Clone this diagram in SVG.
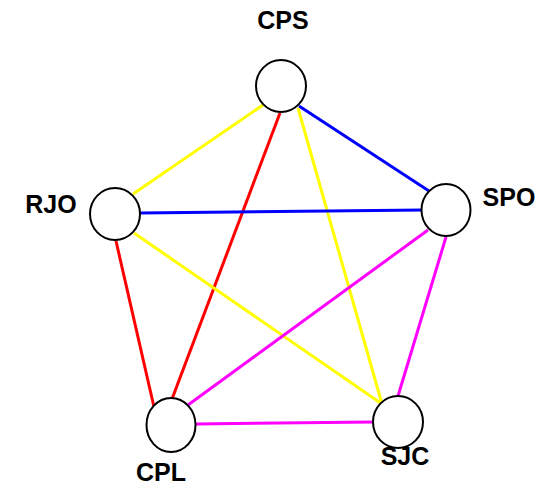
<svg xmlns="http://www.w3.org/2000/svg" width="543" height="486" viewBox="0 0 543 486">
<style>
.n{fill:#fff;stroke:#000;stroke-width:2}
.l{font-family:"Liberation Sans",Arial,sans-serif;font-weight:bold;font-size:25px;fill:#000;text-anchor:middle}
.e{stroke-width:3;fill:none}
.y{stroke:#ffff00}.r{stroke:#ff0000}.b{stroke:#0000ff}.m{stroke:#ff00ff}
</style>
<rect width="543" height="486" fill="#fff"/>
<g id="connectors">
<line class="e y" x1="263" y1="105" x2="133" y2="194"/>
<line class="e r" x1="280" y1="113" x2="172" y2="399"/>
<line class="e y" x1="298" y1="108" x2="382" y2="404"/>
<line class="e b" x1="299" y1="106" x2="429" y2="191"/>
<line class="e b" x1="140" y1="213" x2="423" y2="210"/>
<line class="e r" x1="116" y1="241" x2="154" y2="407"/>
<line class="e y" x1="134" y1="233" x2="382" y2="404"/>
<line class="e m" x1="428" y1="230" x2="188" y2="405"/>
<line class="e m" x1="446" y1="237" x2="398" y2="396"/>
<line class="e m" x1="196" y1="424" x2="374" y2="422"/>
</g>
<g id="CPS"><ellipse class="n" cx="281" cy="86" rx="25" ry="26"/><text class="l" x="283" y="29">CPS</text></g>
<g id="RJO"><ellipse class="n" cx="115" cy="214" rx="25" ry="26"/><text class="l" x="51" y="213">RJO</text></g>
<g id="SPO"><ellipse class="n" cx="446" cy="210" rx="24.5" ry="26"/><text class="l" x="509" y="206">SPO</text></g>
<g id="CPL"><ellipse class="n" cx="171" cy="425" rx="24.5" ry="27"/><text class="l" x="161" y="481">CPL</text></g>
<g id="SJC"><ellipse class="n" cx="398" cy="422" rx="25" ry="26"/><text class="l" x="405" y="465">SJC</text></g>
</svg>
